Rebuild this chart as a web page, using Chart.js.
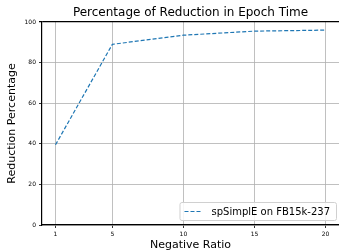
<!DOCTYPE html>
<html>
<head>
<meta charset="utf-8">
<script src="https://cdn.jsdelivr.net/npm/chart.js@4"></script>
<style>
  html, body { margin: 0; padding: 0; background: #fff; overflow: hidden; }
  #wrap { width: 339px; height: 252px; }
</style>
</head>
<body>
<div id="wrap"><canvas id="grafico" width="339" height="252"></canvas></div>
<script>
const razoesNegativas = [1, 5, 10, 15, 20];
const reducaoPercentual = [39.5, 89, 93.5, 95.5, 96];
const ticksX = [1, 5, 10, 15, 20];
const ticksY = [0, 20, 40, 60, 80, 100];
const rotuloSerie = 'spSimplE on FB15k-237';
const tituloGrafico = 'Percentage of Reduction in Epoch Time';

const fonte = "'DejaVu Sans', sans-serif";
const corLinha = '#1f77b4';

// titulo centrado sobre a area do grafico (como no matplotlib)
const tituloCentrado = {
    id: 'tituloCentrado',
    afterDraw(chart) {
        const ctx = chart.ctx;
        const area = chart.chartArea;
        ctx.save();
        ctx.font = `12px ${fonte}`;
        ctx.fillStyle = '#000';
        ctx.textAlign = 'center';
        ctx.textBaseline = 'middle';
        ctx.fillText(tituloGrafico, (area.left + area.right) / 2, 13);
        ctx.restore();
    }
};

// legenda desenhada dentro da area do grafico (canto inferior direito)
const legendaInterna = {
    id: 'legendaInterna',
    afterDraw(chart) {
        const ctx = chart.ctx;
        const area = chart.chartArea;
        ctx.save();
        ctx.font = `10px ${fonte}`;
        const larguraTexto = ctx.measureText(rotuloSerie).width;
        const w = larguraTexto + 38;
        const h = 18;
        const x = area.right - 3 - w;
        const y = area.bottom - 5 - h;
        ctx.fillStyle = 'rgba(255,255,255,0.85)';
        ctx.strokeStyle = '#d0d0d0';
        ctx.lineWidth = 1;
        ctx.beginPath();
        ctx.roundRect(x + 0.5, y + 0.5, w, h, 2);
        ctx.fill();
        ctx.stroke();
        ctx.strokeStyle = corLinha;
        ctx.lineWidth = 1.2;
        ctx.setLineDash([4, 2]);
        ctx.beginPath();
        ctx.moveTo(x + 5, y + h / 2 + 0.5);
        ctx.lineTo(x + 22, y + h / 2 + 0.5);
        ctx.stroke();
        ctx.setLineDash([]);
        ctx.fillStyle = '#000';
        ctx.textBaseline = 'middle';
        ctx.fillText(rotuloSerie, x + 32, y + h / 2 + 1);
        ctx.restore();
    }
};

let data = {
    datasets: [{
        label: rotuloSerie,
        data: razoesNegativas.map((r, i) => ({ x: r, y: reducaoPercentual[i] })),
        borderColor: corLinha,
        backgroundColor: corLinha,
        borderWidth: 1.2,
        borderDash: [4, 2],
        pointRadius: 0,
        fill: false,
        tension: 0
    }]
};

let options = {
    responsive: false,
    animation: false,
    layout: { padding: { left: 0, right: 0, top: 22, bottom: 0 } },
    scales: {
        x: {
            type: 'linear',
            min: 0.05,
            max: 20.95,
            afterBuildTicks: (s) => { s.ticks = ticksX.map(v => ({ value: v })); },
            afterFit: (s) => { s.height = 27; },
            border: { display: true, color: '#000', width: 1.2 },
            grid: { color: '#b0b0b0', lineWidth: 0.8, tickLength: 3, tickColor: '#000', drawTicks: true },
            ticks: { color: '#000', font: { family: fonte, size: 6 }, padding: 3, maxRotation: 0 },
            title: { display: true, text: 'Negative Ratio', color: '#000', font: { family: fonte, size: 11 }, padding: { top: 0, bottom: 0 } }
        },
        y: {
            min: 0,
            max: 100,
            afterBuildTicks: (s) => { s.ticks = ticksY.map(v => ({ value: v })); },
            afterFit: (s) => { s.width = 42; },
            border: { display: true, color: '#000', width: 1.2 },
            grid: {
                color: (c) => c.tick && c.tick.value === 100 ? '#000' : '#b0b0b0',
                lineWidth: (c) => c.tick && c.tick.value === 100 ? 1.2 : 0.8,
                tickLength: 3, tickColor: '#000', drawTicks: true
            },
            ticks: { color: '#000', font: { family: fonte, size: 6 }, padding: 3 },
            title: { display: true, text: 'Reduction Percentage', color: '#000', font: { family: fonte, size: 11 }, padding: { top: 6, bottom: 0 } }
        }
    },
    plugins: {
        legend: { display: false },
        tooltip: { enabled: false },
        title: { display: false }
    }
};

new Chart(document.getElementById('grafico'), { type: 'line', data, options, plugins: [tituloCentrado, legendaInterna] });
</script>
</body>
</html>
